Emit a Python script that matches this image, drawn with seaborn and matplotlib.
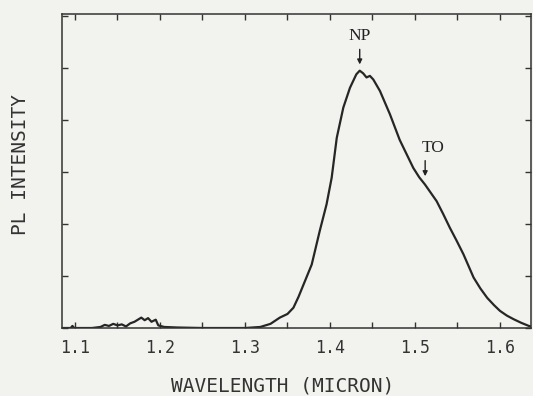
import matplotlib
matplotlib.use('Agg')
import matplotlib.pyplot as plt
import seaborn as sns
from matplotlib.ticker import MultipleLocator

# PL spectrum
wavelength = [1.085, 1.095, 1.097, 1.099, 1.12, 1.13, 1.135, 1.14, 1.145, 1.15,
              1.155, 1.16, 1.165, 1.17, 1.175, 1.178, 1.182, 1.186, 1.19, 1.195,
              1.198, 1.205, 1.22, 1.25, 1.30, 1.318, 1.33, 1.341, 1.35, 1.357,
              1.363, 1.369, 1.3785, 1.388, 1.396, 1.402, 1.408, 1.4157, 1.4235, 1.431,
              1.435, 1.439, 1.443, 1.447, 1.451, 1.4588, 1.4706, 1.482, 1.49, 1.498,
              1.505, 1.5118, 1.5255, 1.533, 1.541, 1.549, 1.557, 1.569, 1.577, 1.585,
              1.593, 1.60, 1.608, 1.616, 1.625, 1.634, 1.637]
intensity = [0.0, 0.0, 0.04, 0.0, 0.0, 0.02, 0.06, 0.04, 0.08, 0.05,
             0.07, 0.03, 0.09, 0.12, 0.17, 0.20, 0.15, 0.19, 0.12, 0.16,
             0.05, 0.02, 0.01, 0.0, 0.0, 0.02, 0.08, 0.20, 0.27, 0.39,
             0.60, 0.84, 1.22, 1.87, 2.38, 2.89, 3.66, 4.24, 4.62, 4.88,
             4.95, 4.90, 4.82, 4.85, 4.78, 4.56, 4.11, 3.62, 3.35, 3.08,
             2.90, 2.76, 2.44, 2.20, 1.93, 1.68, 1.42, 0.97, 0.76, 0.58,
             0.44, 0.33, 0.24, 0.17, 0.10, 0.04, 0.03]

x_ticks = [1.1, 1.2, 1.3, 1.4, 1.5, 1.6]
x_ticklabels = ['1.1', '1.2', '1.3', '1.4', '1.5', '1.6']

# peak markers: name, arrow x, arrow tip y, arrow tail y, label x, label y
peak_names = ['NP', 'TO']
arrow_x = [1.435, 1.512]
arrow_tip = [5.07, 2.92]
arrow_tail = [5.36, 3.22]
label_x = [1.435, 1.521]
label_y = [5.62, 3.47]

bg = '#f2f2ef'
ink = '#333333'

sns.set_style('ticks')
plt.rcParams['font.family'] = ['DejaVu Sans Mono', 'DejaVu Sans']

fig = plt.figure(figsize=(5.33, 3.96), dpi=100, facecolor=bg)
ax = fig.add_axes([0.1163, 0.1717, 0.8807, 0.7929])
ax.set_facecolor(bg)

sns.lineplot(x=wavelength, y=intensity, ax=ax, color='#262626', linewidth=1.6)

ax.set_xlim(1.0847, 1.637)
ax.set_ylim(0, 6.04)

ax.set_xticks(x_ticks)
ax.set_xticklabels(x_ticklabels)
ax.xaxis.set_minor_locator(MultipleLocator(0.05))
ax.yaxis.set_major_locator(MultipleLocator(1))
ax.set_yticklabels([])

ax.tick_params(which='both', direction='in', top=True, right=True,
               length=4, width=1.0, color=ink)
ax.tick_params(axis='x', which='major', labelsize=12, labelcolor=ink, pad=8)

for s in ax.spines.values():
    s.set_visible(True)
    s.set_color(ink)
    s.set_linewidth(1.1)

ax.set_xlabel('WAVELENGTH (MICRON)', fontsize=14, color=ink)
ax.set_ylabel('PL INTENSITY', fontsize=14, color=ink)
ax.xaxis.set_label_coords(0.469, -0.155)
ax.yaxis.set_label_coords(-0.068, 0.522)

for name, ax_x, tip, tail, lx, ly in zip(peak_names, arrow_x, arrow_tip,
                                         arrow_tail, label_x, label_y):
    ax.annotate('', xy=(ax_x, tip), xytext=(ax_x, tail),
                arrowprops=dict(arrowstyle='-|>', color='#222222', lw=1.0,
                                mutation_scale=7, shrinkA=0, shrinkB=0))
    ax.text(lx, ly, name, ha='center', va='center', fontsize=12.5,
            family='Liberation Serif', color='#222222')

fig.savefig('out.png', dpi=100, facecolor=bg)
